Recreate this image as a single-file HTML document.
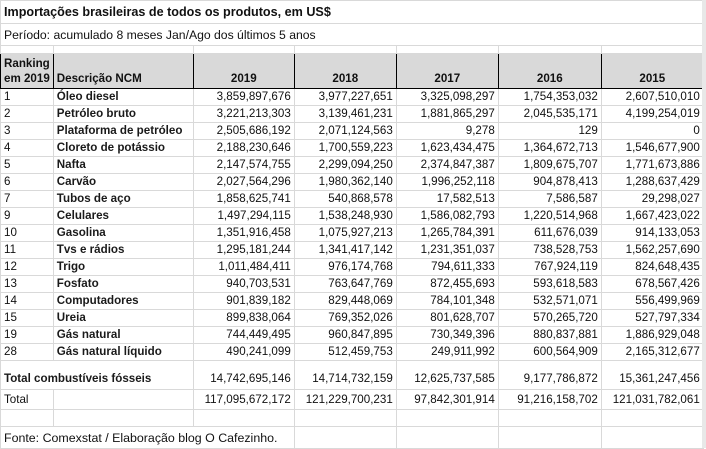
<!DOCTYPE html>
<html><head><meta charset="utf-8"><style>
body{margin:0;width:706px;height:448px;overflow:hidden;background:#fff;font-family:"Liberation Sans",Arial,sans-serif;}
#sb{position:absolute;left:702px;top:0;width:4px;height:448px;background:#e8e8e8}
table{border-collapse:collapse;table-layout:fixed;position:absolute;left:0;top:0;font-size:11.6px;color:#111}
td{border:1px solid #d9d9d9;padding:0 3px;white-space:nowrap;overflow:visible;line-height:14px}
td.n{text-align:right}
td.d{font-weight:bold;color:#1a1a1a}
tr.dr td{height:16px}
tr.hd td{background:#d9d9d9;font-weight:bold;border:1px solid #000;vertical-align:bottom;padding-bottom:2px}
tr.hd td.n{text-align:center}
.t{font-weight:bold;font-size:12.6px}
.s{font-size:12.2px;color:#111}
</style></head><body>
<table>
<colgroup><col style="width:52px"><col style="width:140px"><col style="width:101px"><col style="width:102px"><col style="width:102px"><col style="width:103px"><col style="width:102px"></colgroup>
<tr style="height:23px"><td colspan="7" class="t" style="border-right:none">Importações brasileiras de todos os produtos, em US$</td></tr>
<tr style="height:22px"><td colspan="7" class="s">Período: acumulado 8 meses Jan/Ago dos últimos 5 anos</td></tr>
<tr style="height:8px"><td></td><td></td><td></td><td></td><td></td><td></td><td></td></tr>
<tr class="hd" style="height:35px"><td style="line-height:15px">Ranking<br>em 2019</td><td>Descrição NCM</td><td class="n">2019</td><td class="n">2018</td><td class="n">2017</td><td class="n">2016</td><td class="n">2015</td></tr>
<tr class="dr"><td>1</td><td class="d">Óleo diesel</td><td class="n">3,859,897,676</td><td class="n">3,977,227,651</td><td class="n">3,325,098,297</td><td class="n">1,754,353,032</td><td class="n">2,607,510,010</td></tr>
<tr class="dr"><td>2</td><td class="d">Petróleo bruto</td><td class="n">3,221,213,303</td><td class="n">3,139,461,231</td><td class="n">1,881,865,297</td><td class="n">2,045,535,171</td><td class="n">4,199,254,019</td></tr>
<tr class="dr"><td>3</td><td class="d">Plataforma de petróleo</td><td class="n">2,505,686,192</td><td class="n">2,071,124,563</td><td class="n">9,278</td><td class="n">129</td><td class="n">0</td></tr>
<tr class="dr"><td>4</td><td class="d">Cloreto de potássio</td><td class="n">2,188,230,646</td><td class="n">1,700,559,223</td><td class="n">1,623,434,475</td><td class="n">1,364,672,713</td><td class="n">1,546,677,900</td></tr>
<tr class="dr"><td>5</td><td class="d">Nafta</td><td class="n">2,147,574,755</td><td class="n">2,299,094,250</td><td class="n">2,374,847,387</td><td class="n">1,809,675,707</td><td class="n">1,771,673,886</td></tr>
<tr class="dr"><td>6</td><td class="d">Carvão</td><td class="n">2,027,564,296</td><td class="n">1,980,362,140</td><td class="n">1,996,252,118</td><td class="n">904,878,413</td><td class="n">1,288,637,429</td></tr>
<tr class="dr"><td>7</td><td class="d">Tubos de aço</td><td class="n">1,858,625,741</td><td class="n">540,868,578</td><td class="n">17,582,513</td><td class="n">7,586,587</td><td class="n">29,298,027</td></tr>
<tr class="dr"><td>9</td><td class="d">Celulares</td><td class="n">1,497,294,115</td><td class="n">1,538,248,930</td><td class="n">1,586,082,793</td><td class="n">1,220,514,968</td><td class="n">1,667,423,022</td></tr>
<tr class="dr"><td>10</td><td class="d">Gasolina</td><td class="n">1,351,916,458</td><td class="n">1,075,927,213</td><td class="n">1,265,784,391</td><td class="n">611,676,039</td><td class="n">914,133,053</td></tr>
<tr class="dr"><td>11</td><td class="d">Tvs e rádios</td><td class="n">1,295,181,244</td><td class="n">1,341,417,142</td><td class="n">1,231,351,037</td><td class="n">738,528,753</td><td class="n">1,562,257,690</td></tr>
<tr class="dr"><td>12</td><td class="d">Trigo</td><td class="n">1,011,484,411</td><td class="n">976,174,768</td><td class="n">794,611,333</td><td class="n">767,924,119</td><td class="n">824,648,435</td></tr>
<tr class="dr"><td>13</td><td class="d">Fosfato</td><td class="n">940,703,531</td><td class="n">763,647,769</td><td class="n">872,455,693</td><td class="n">593,618,583</td><td class="n">678,567,426</td></tr>
<tr class="dr"><td>14</td><td class="d">Computadores</td><td class="n">901,839,182</td><td class="n">829,448,069</td><td class="n">784,101,348</td><td class="n">532,571,071</td><td class="n">556,499,969</td></tr>
<tr class="dr"><td>15</td><td class="d">Ureia</td><td class="n">899,838,064</td><td class="n">769,352,026</td><td class="n">801,628,707</td><td class="n">570,265,720</td><td class="n">527,797,334</td></tr>
<tr class="dr"><td>19</td><td class="d">Gás natural</td><td class="n">744,449,495</td><td class="n">960,847,895</td><td class="n">730,349,396</td><td class="n">880,837,881</td><td class="n">1,886,929,048</td></tr>
<tr class="dr"><td>28</td><td class="d">Gás natural líquido</td><td class="n">490,241,099</td><td class="n">512,459,753</td><td class="n">249,911,992</td><td class="n">600,564,909</td><td class="n">2,165,312,677</td></tr>
<tr style="height:8px"><td colspan="2" style="border-bottom:none"></td><td style="border-bottom:none"></td><td style="border-bottom:none"></td><td style="border-bottom:none"></td><td style="border-bottom:none"></td><td style="border-bottom:none"></td></tr>
<tr style="height:21px"><td colspan="2" class="d" style="border-top:none">Total combustíveis fósseis</td><td class="n" style="border-top:none">14,742,695,146</td><td class="n" style="border-top:none">14,714,732,159</td><td class="n" style="border-top:none">12,625,737,585</td><td class="n" style="border-top:none">9,177,786,872</td><td class="n" style="border-top:none">15,361,247,456</td></tr>
<tr style="height:20px"><td>Total</td><td></td><td class="n">117,095,672,172</td><td class="n">121,229,700,231</td><td class="n">97,842,301,914</td><td class="n">91,216,158,702</td><td class="n">121,031,782,061</td></tr>
<tr style="height:17px"><td></td><td></td><td></td><td></td><td></td><td></td><td></td></tr>
<tr style="height:22px"><td colspan="3" style="font-size:12.4px">Fonte: Comexstat / Elaboração blog O Cafezinho.</td><td></td><td></td><td></td><td></td></tr>
</table>
<div id="sb"></div>
</body></html>
